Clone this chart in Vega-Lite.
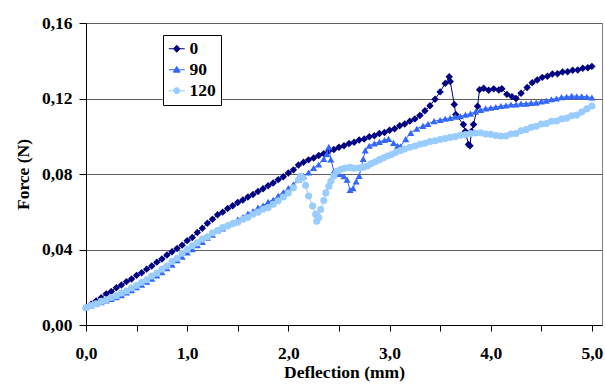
{
"$schema": "https://vega.github.io/schema/vega-lite/v6.json",
"width": 516,
"height": 302,
"autosize": {"type": "none"},
"padding": {"left": 86, "top": 23, "right": 3, "bottom": 62},
"background": "white",
"config": {
  "view": {"stroke": "#808080", "strokeWidth": 1},
  "font": "Liberation Serif",
  "axis": {"labelFont": "Liberation Serif", "labelFontWeight": "bold", "labelFontSize": 17.5, "labelColor": "black", "titleFont": "Liberation Serif", "titleFontWeight": "bold", "titleFontSize": 17.5, "titleColor": "black", "domainColor": "black", "tickColor": "black", "domainWidth": 1, "tickWidth": 1},
  "legend": {"labelFont": "Liberation Serif", "labelFontWeight": "bold", "labelFontSize": 17.5, "labelColor": "black"}
},
"data": {"values": [
{"s":"0","x":0.00,"y":0.0090},{"s":"0","x":0.05,"y":0.0110},{"s":"0","x":0.10,"y":0.0127},{"s":"0","x":0.15,"y":0.0145},{"s":"0","x":0.20,"y":0.0165},{"s":"0","x":0.25,"y":0.0178},{"s":"0","x":0.30,"y":0.0197},{"s":"0","x":0.35,"y":0.0212},{"s":"0","x":0.40,"y":0.0230},{"s":"0","x":0.45,"y":0.0244},{"s":"0","x":0.50,"y":0.0263},{"s":"0","x":0.55,"y":0.0277},{"s":"0","x":0.60,"y":0.0296},{"s":"0","x":0.65,"y":0.0313},{"s":"0","x":0.70,"y":0.0333},{"s":"0","x":0.75,"y":0.0350},{"s":"0","x":0.80,"y":0.0371},{"s":"0","x":0.85,"y":0.0388},{"s":"0","x":0.90,"y":0.0405},{"s":"0","x":0.95,"y":0.0423},{"s":"0","x":1.00,"y":0.0447},{"s":"0","x":1.05,"y":0.0464},{"s":"0","x":1.10,"y":0.0490},{"s":"0","x":1.15,"y":0.0513},{"s":"0","x":1.20,"y":0.0539},{"s":"0","x":1.25,"y":0.0560},{"s":"0","x":1.30,"y":0.0584},{"s":"0","x":1.35,"y":0.0598},{"s":"0","x":1.40,"y":0.0617},{"s":"0","x":1.45,"y":0.0632},{"s":"0","x":1.50,"y":0.0649},{"s":"0","x":1.55,"y":0.0662},{"s":"0","x":1.60,"y":0.0678},{"s":"0","x":1.65,"y":0.0691},{"s":"0","x":1.70,"y":0.0707},{"s":"0","x":1.75,"y":0.0722},{"s":"0","x":1.80,"y":0.0738},{"s":"0","x":1.85,"y":0.0752},{"s":"0","x":1.90,"y":0.0770},{"s":"0","x":1.95,"y":0.0785},{"s":"0","x":2.00,"y":0.0805},{"s":"0","x":2.05,"y":0.0822},{"s":"0","x":2.10,"y":0.0848},{"s":"0","x":2.15,"y":0.0862},{"s":"0","x":2.20,"y":0.0875},{"s":"0","x":2.25,"y":0.0885},{"s":"0","x":2.30,"y":0.0898},{"s":"0","x":2.35,"y":0.0908},{"s":"0","x":2.40,"y":0.0922},{"s":"0","x":2.45,"y":0.0930},{"s":"0","x":2.50,"y":0.0942},{"s":"0","x":2.55,"y":0.0950},{"s":"0","x":2.60,"y":0.0962},{"s":"0","x":2.65,"y":0.0968},{"s":"0","x":2.70,"y":0.0980},{"s":"0","x":2.75,"y":0.0985},{"s":"0","x":2.80,"y":0.0997},{"s":"0","x":2.85,"y":0.1003},{"s":"0","x":2.90,"y":0.1015},{"s":"0","x":2.95,"y":0.1020},{"s":"0","x":3.00,"y":0.1032},{"s":"0","x":3.05,"y":0.1040},{"s":"0","x":3.10,"y":0.1056},{"s":"0","x":3.15,"y":0.1065},{"s":"0","x":3.20,"y":0.1080},{"s":"0","x":3.25,"y":0.1092},{"s":"0","x":3.30,"y":0.1110},{"s":"0","x":3.35,"y":0.1135},{"s":"0","x":3.40,"y":0.1162},{"s":"0","x":3.45,"y":0.1196},{"s":"0","x":3.50,"y":0.1235},{"s":"0","x":3.55,"y":0.1280},{"s":"0","x":3.59,"y":0.1315},{"s":"0","x":3.60,"y":0.1290},{"s":"0","x":3.64,"y":0.1168},{"s":"0","x":3.655,"y":0.1115},{"s":"0","x":3.73,"y":0.1062},{"s":"0","x":3.75,"y":0.1026},{"s":"0","x":3.78,"y":0.0956},{"s":"0","x":3.795,"y":0.0950},{"s":"0","x":3.81,"y":0.1026},{"s":"0","x":3.83,"y":0.1062},{"s":"0","x":3.87,"y":0.1159},{"s":"0","x":3.89,"y":0.1247},{"s":"0","x":3.93,"y":0.1254},{"s":"0","x":3.98,"y":0.1244},{"s":"0","x":4.03,"y":0.1251},{"s":"0","x":4.08,"y":0.1245},{"s":"0","x":4.11,"y":0.1252},{"s":"0","x":4.16,"y":0.1222},{"s":"0","x":4.21,"y":0.1210},{"s":"0","x":4.25,"y":0.1200},{"s":"0","x":4.30,"y":0.1228},{"s":"0","x":4.36,"y":0.1258},{"s":"0","x":4.41,"y":0.1284},{"s":"0","x":4.46,"y":0.1298},{"s":"0","x":4.51,"y":0.1312},{"s":"0","x":4.56,"y":0.1318},{"s":"0","x":4.61,"y":0.1330},{"s":"0","x":4.66,"y":0.1331},{"s":"0","x":4.71,"y":0.1340},{"s":"0","x":4.76,"y":0.1342},{"s":"0","x":4.81,"y":0.1350},{"s":"0","x":4.86,"y":0.1351},{"s":"0","x":4.91,"y":0.1360},{"s":"0","x":4.96,"y":0.1363},{"s":"0","x":5.00,"y":0.1370},
{"s":"90","x":0.00,"y":0.0095},{"s":"90","x":0.05,"y":0.0103},{"s":"90","x":0.10,"y":0.0112},{"s":"90","x":0.15,"y":0.0121},{"s":"90","x":0.20,"y":0.0130},{"s":"90","x":0.25,"y":0.0138},{"s":"90","x":0.30,"y":0.0147},{"s":"90","x":0.35,"y":0.0158},{"s":"90","x":0.40,"y":0.0172},{"s":"90","x":0.45,"y":0.0185},{"s":"90","x":0.50,"y":0.0200},{"s":"90","x":0.55,"y":0.0214},{"s":"90","x":0.60,"y":0.0230},{"s":"90","x":0.65,"y":0.0245},{"s":"90","x":0.70,"y":0.0263},{"s":"90","x":0.75,"y":0.0280},{"s":"90","x":0.80,"y":0.0301},{"s":"90","x":0.85,"y":0.0320},{"s":"90","x":0.90,"y":0.0343},{"s":"90","x":0.95,"y":0.0362},{"s":"90","x":1.00,"y":0.0385},{"s":"90","x":1.05,"y":0.0402},{"s":"90","x":1.10,"y":0.0423},{"s":"90","x":1.15,"y":0.0440},{"s":"90","x":1.20,"y":0.0462},{"s":"90","x":1.25,"y":0.0478},{"s":"90","x":1.30,"y":0.0500},{"s":"90","x":1.35,"y":0.0511},{"s":"90","x":1.40,"y":0.0530},{"s":"90","x":1.45,"y":0.0542},{"s":"90","x":1.50,"y":0.0560},{"s":"90","x":1.55,"y":0.0572},{"s":"90","x":1.60,"y":0.0590},{"s":"90","x":1.65,"y":0.0603},{"s":"90","x":1.70,"y":0.0622},{"s":"90","x":1.75,"y":0.0633},{"s":"90","x":1.80,"y":0.0652},{"s":"90","x":1.85,"y":0.0663},{"s":"90","x":1.90,"y":0.0685},{"s":"90","x":1.95,"y":0.0703},{"s":"90","x":2.00,"y":0.0725},{"s":"90","x":2.05,"y":0.0745},{"s":"90","x":2.10,"y":0.0770},{"s":"90","x":2.15,"y":0.0790},{"s":"90","x":2.20,"y":0.0808},{"s":"90","x":2.25,"y":0.0832},{"s":"90","x":2.30,"y":0.0850},{"s":"90","x":2.35,"y":0.0880},{"s":"90","x":2.38,"y":0.0905},{"s":"90","x":2.40,"y":0.0944},{"s":"90","x":2.42,"y":0.0877},{"s":"90","x":2.45,"y":0.0815},{"s":"90","x":2.50,"y":0.0800},{"s":"90","x":2.55,"y":0.0788},{"s":"90","x":2.58,"y":0.0770},{"s":"90","x":2.61,"y":0.0715},{"s":"90","x":2.64,"y":0.0725},{"s":"90","x":2.67,"y":0.0760},{"s":"90","x":2.70,"y":0.0790},{"s":"90","x":2.74,"y":0.0880},{"s":"90","x":2.76,"y":0.0925},{"s":"90","x":2.80,"y":0.0950},{"s":"90","x":2.85,"y":0.0962},{"s":"90","x":2.90,"y":0.0970},{"s":"90","x":2.95,"y":0.0980},{"s":"90","x":2.99,"y":0.0986},{"s":"90","x":3.04,"y":0.0965},{"s":"90","x":3.08,"y":0.0950},{"s":"90","x":3.11,"y":0.0947},{"s":"90","x":3.16,"y":0.0985},{"s":"90","x":3.21,"y":0.1018},{"s":"90","x":3.27,"y":0.1040},{"s":"90","x":3.33,"y":0.1055},{"s":"90","x":3.38,"y":0.1065},{"s":"90","x":3.44,"y":0.1080},{"s":"90","x":3.50,"y":0.1086},{"s":"90","x":3.55,"y":0.1093},{"s":"90","x":3.60,"y":0.1097},{"s":"90","x":3.65,"y":0.1104},{"s":"90","x":3.70,"y":0.1106},{"s":"90","x":3.75,"y":0.1114},{"s":"90","x":3.80,"y":0.1120},{"s":"90","x":3.85,"y":0.1130},{"s":"90","x":3.90,"y":0.1140},{"s":"90","x":3.95,"y":0.1148},{"s":"90","x":4.00,"y":0.1151},{"s":"90","x":4.05,"y":0.1155},{"s":"90","x":4.10,"y":0.1160},{"s":"90","x":4.15,"y":0.1163},{"s":"90","x":4.20,"y":0.1168},{"s":"90","x":4.25,"y":0.1168},{"s":"90","x":4.30,"y":0.1173},{"s":"90","x":4.35,"y":0.1173},{"s":"90","x":4.40,"y":0.1177},{"s":"90","x":4.45,"y":0.1178},{"s":"90","x":4.50,"y":0.1185},{"s":"90","x":4.55,"y":0.1189},{"s":"90","x":4.60,"y":0.1196},{"s":"90","x":4.65,"y":0.1200},{"s":"90","x":4.70,"y":0.1207},{"s":"90","x":4.75,"y":0.1209},{"s":"90","x":4.80,"y":0.1214},{"s":"90","x":4.85,"y":0.1211},{"s":"90","x":4.90,"y":0.1212},{"s":"90","x":4.95,"y":0.1209},{"s":"90","x":5.00,"y":0.1205},
{"s":"120","x":0.00,"y":0.0092},{"s":"120","x":0.05,"y":0.0103},{"s":"120","x":0.10,"y":0.0112},{"s":"120","x":0.15,"y":0.0125},{"s":"120","x":0.20,"y":0.0134},{"s":"120","x":0.25,"y":0.0146},{"s":"120","x":0.30,"y":0.0155},{"s":"120","x":0.35,"y":0.0169},{"s":"120","x":0.40,"y":0.0180},{"s":"120","x":0.45,"y":0.0196},{"s":"120","x":0.50,"y":0.0209},{"s":"120","x":0.55,"y":0.0226},{"s":"120","x":0.60,"y":0.0240},{"s":"120","x":0.65,"y":0.0259},{"s":"120","x":0.70,"y":0.0274},{"s":"120","x":0.75,"y":0.0296},{"s":"120","x":0.80,"y":0.0313},{"s":"120","x":0.85,"y":0.0336},{"s":"120","x":0.90,"y":0.0354},{"s":"120","x":0.95,"y":0.0380},{"s":"120","x":1.00,"y":0.0400},{"s":"120","x":1.05,"y":0.0420},{"s":"120","x":1.10,"y":0.0435},{"s":"120","x":1.15,"y":0.0455},{"s":"120","x":1.20,"y":0.0468},{"s":"120","x":1.25,"y":0.0487},{"s":"120","x":1.30,"y":0.0500},{"s":"120","x":1.35,"y":0.0517},{"s":"120","x":1.40,"y":0.0525},{"s":"120","x":1.45,"y":0.0537},{"s":"120","x":1.50,"y":0.0545},{"s":"120","x":1.55,"y":0.0560},{"s":"120","x":1.60,"y":0.0570},{"s":"120","x":1.65,"y":0.0587},{"s":"120","x":1.70,"y":0.0598},{"s":"120","x":1.75,"y":0.0613},{"s":"120","x":1.80,"y":0.0622},{"s":"120","x":1.85,"y":0.0640},{"s":"120","x":1.90,"y":0.0658},{"s":"120","x":1.95,"y":0.0678},{"s":"120","x":2.00,"y":0.0700},{"s":"120","x":2.05,"y":0.0727},{"s":"120","x":2.10,"y":0.0770},{"s":"120","x":2.12,"y":0.0788},{"s":"120","x":2.14,"y":0.0780},{"s":"120","x":2.17,"y":0.0740},{"s":"120","x":2.20,"y":0.0683},{"s":"120","x":2.24,"y":0.0630},{"s":"120","x":2.27,"y":0.0586},{"s":"120","x":2.28,"y":0.0550},{"s":"120","x":2.30,"y":0.0570},{"s":"120","x":2.32,"y":0.0612},{"s":"120","x":2.35,"y":0.0660},{"s":"120","x":2.37,"y":0.0700},{"s":"120","x":2.40,"y":0.0735},{"s":"120","x":2.42,"y":0.0762},{"s":"120","x":2.45,"y":0.0790},{"s":"120","x":2.48,"y":0.0815},{"s":"120","x":2.52,"y":0.0825},{"s":"120","x":2.56,"y":0.0831},{"s":"120","x":2.61,"y":0.0835},{"s":"120","x":2.65,"y":0.0830},{"s":"120","x":2.70,"y":0.0832},{"s":"120","x":2.74,"y":0.0836},{"s":"120","x":2.78,"y":0.0842},{"s":"120","x":2.82,"y":0.0855},{"s":"120","x":2.86,"y":0.0865},{"s":"120","x":2.90,"y":0.0876},{"s":"120","x":2.94,"y":0.0886},{"s":"120","x":2.98,"y":0.0895},{"s":"120","x":3.02,"y":0.0903},{"s":"120","x":3.06,"y":0.0914},{"s":"120","x":3.11,"y":0.0925},{"s":"120","x":3.15,"y":0.0932},{"s":"120","x":3.20,"y":0.0942},{"s":"120","x":3.25,"y":0.0948},{"s":"120","x":3.30,"y":0.0958},{"s":"120","x":3.35,"y":0.0963},{"s":"120","x":3.40,"y":0.0972},{"s":"120","x":3.45,"y":0.0976},{"s":"120","x":3.50,"y":0.0983},{"s":"120","x":3.55,"y":0.0988},{"s":"120","x":3.60,"y":0.0994},{"s":"120","x":3.65,"y":0.0998},{"s":"120","x":3.70,"y":0.1005},{"s":"120","x":3.75,"y":0.1009},{"s":"120","x":3.80,"y":0.1015},{"s":"120","x":3.85,"y":0.1017},{"s":"120","x":3.90,"y":0.1018},{"s":"120","x":3.95,"y":0.1012},{"s":"120","x":4.00,"y":0.1010},{"s":"120","x":4.05,"y":0.1004},{"s":"120","x":4.10,"y":0.1001},{"s":"120","x":4.15,"y":0.1001},{"s":"120","x":4.20,"y":0.1012},{"s":"120","x":4.25,"y":0.1015},{"s":"120","x":4.30,"y":0.1029},{"s":"120","x":4.35,"y":0.1035},{"s":"120","x":4.40,"y":0.1048},{"s":"120","x":4.45,"y":0.1053},{"s":"120","x":4.50,"y":0.1065},{"s":"120","x":4.55,"y":0.1068},{"s":"120","x":4.60,"y":0.1079},{"s":"120","x":4.65,"y":0.1081},{"s":"120","x":4.70,"y":0.1092},{"s":"120","x":4.75,"y":0.1096},{"s":"120","x":4.80,"y":0.1108},{"s":"120","x":4.85,"y":0.1112},{"s":"120","x":4.90,"y":0.1128},{"s":"120","x":4.95,"y":0.1145},{"s":"120","x":5.00,"y":0.1160}
]},
"encoding": {
  "x": {"field": "x", "type": "quantitative", "title": "Deflection (mm)",
    "scale": {"domain": [0, 5.1], "nice": false, "zero": false},
    "axis": {"values": [0,0.5,1,1.5,2,2.5,3,3.5,4,4.5,5], "grid": false, "tickSize": 6, "labelPadding": 13, "titlePadding": 2,
      "labelExpr": "datum.value % 1 == 0 ? replace(format(datum.value, '.1f'), '.', ',') : ''", "labelFlush": false, "labelOverlap": false}},
  "y": {"field": "y", "type": "quantitative", "title": "Force (N)",
    "scale": {"domain": [0, 0.16], "nice": false},
    "axis": {"values": [0,0.04,0.08,0.12,0.16], "grid": true, "gridColor": "#606060", "gridWidth": 1, "gridOpacity": 1, "tickSize": 7, "labelPadding": 7, "titlePadding": 9,
      "labelExpr": "replace(format(datum.value, '.2f'), '.', ',')"}},
  "color": {"field": "s", "type": "nominal", "sort": ["0","90","120"],
    "scale": {"domain": ["0","90","120"], "range": ["#000080","#3366FF","#99CCFF"]},
    "legend": {"title": null, "orient": "none", "legendX": 77, "legendY": 12, "strokeColor": "black", "fillColor": "white", "padding": 5, "rowPadding": 2, "symbolSize": 256, "labelOffset": 4, "symbolStrokeWidth": 1,
      "encoding": {"symbols": {
        "shape": {"value": {"signal": "datum.value === '0' ? 'M-1,0L1,0M0,-0.45L0.4,0L0,0.45L-0.4,0Z' : (datum.value === '90' ? 'M-1,0L1,0M0,-0.42L0.42,0.3L-0.42,0.3Z' : 'M-1,0L1,0M-0.38,0A0.38,0.38 0 1,0 0.38,0A0.38,0.38 0 1,0 -0.38,0Z')"}},
        "stroke": {"value": {"signal": "scale('color', datum.value)"}},
        "fill": {"value": {"signal": "scale('color', datum.value)"}},
        "strokeWidth": {"value": 1},
        "opacity": {"value": 1}
      }}}}
},
"layer": [
  {"transform": [{"filter": "datum.s === '0'"}], "mark": {"type": "line", "strokeWidth": 1}},
  {"transform": [{"filter": "datum.s === '0'"}], "mark": {"type": "point", "shape": "diamond", "filled": true, "opacity": 1, "size": 55}},
  {"transform": [{"filter": "datum.s === '90'"}], "mark": {"type": "line", "strokeWidth": 1}},
  {"transform": [{"filter": "datum.s === '90'"}], "mark": {"type": "point", "shape": "triangle-up", "filled": true, "opacity": 1, "size": 50}},
  {"transform": [{"filter": "datum.s === '120'"}], "mark": {"type": "line", "strokeWidth": 1}},
  {"transform": [{"filter": "datum.s === '120'"}], "mark": {"type": "point", "shape": "circle", "filled": true, "opacity": 1, "size": 50}}
]
}
